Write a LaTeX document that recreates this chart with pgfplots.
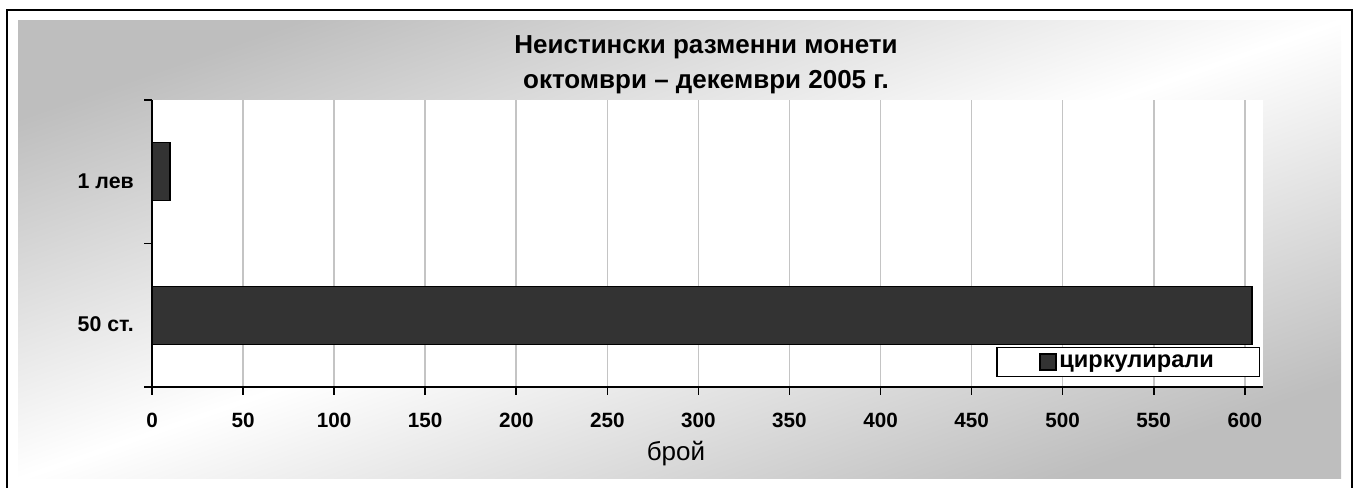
\documentclass[border=0pt]{standalone}
\usepackage{fontspec}
\setmainfont{Liberation Sans}
\usepackage{pgfplots}
\pgfplotsset{compat=1.18}
\definecolor{bgray}{HTML}{BEBEBE}
\definecolor{gridc}{HTML}{C4C4C4}
\definecolor{barc}{HTML}{333333}
\begin{document}
\begin{tikzpicture}[x=1pt,y=1pt]
\path[use as bounding box] (0,0) rectangle (1017,366);
\shade[top color=bgray, bottom color=bgray, middle color=white, shading angle=19.1] (13.5,6.75) rectangle (1005.75,350.25);
\draw[line width=2pt] (5.25,-5) -- (5.25,358.5) -- (1014,358.5) -- (1014,-5);
\node[font=\fontsize{19.5}{22}\selectfont\bfseries, anchor=base] at (529.5,326) {Неистински разменни монети};
\node[font=\fontsize{19.5}{22}\selectfont\bfseries, anchor=base] at (529.5,299.8) {октомври – декември 2005 г.};
\begin{axis}[
  at={(114pt,75.75pt)}, anchor=south west, scale only axis,
  width=833.25pt, height=215.25pt,
  xbar, bar width=43.5pt,
  xmin=0, xmax=610, ymin=-0.5, ymax=1.5,
  axis x line*=bottom, axis y line*=left,
  axis line style={line width=1.2pt, -},
  axis background/.style={fill=white},
  xtick={0,50,...,600},
  xmajorgrids, major grid style={gridc, line width=1.2pt},
  tick align=outside, major tick length=6pt,
  tick style={black, line width=1.2pt},
  ytick={-0.5,0.5,1.5}, yticklabels={},
  extra y ticks={0,1}, extra y tick labels={50 ст.,1 лев},
  extra y tick style={major tick length=0pt, ymajorgrids=false},
  /pgf/number format/assume math mode=true,
  xticklabel style={font=\fontsize{15.5}{18}\selectfont\bfseries, anchor=north, inner sep=0pt, yshift=-13.5pt},
  yticklabel style={font=\fontsize{16}{19}\selectfont\bfseries, anchor=east, inner sep=0pt, xshift=-13.5pt, yshift=-7pt},
  xlabel={брой},
  xlabel style={font=\fontsize{19.5}{22}\selectfont, at={(axis description cs:0.4716,-0.2544)}, anchor=base},
  legend style={at={(0.9973,0.0348)}, anchor=south east, draw=black, line width=1.1pt, fill=white,
    inner xsep=32pt, inner ysep=4.2pt, font=\fontsize{17.7}{20}\selectfont\bfseries,
    nodes={inner xsep=2pt, inner ysep=1pt}},
  legend image code/.code={\draw[#1, line width=0.9pt] (0pt,-6pt) rectangle (12pt,6pt);},
]
\addplot[fill=barc, draw=black, line width=1.1pt] coordinates {(604,0) (10,1)};
\addlegendentry{циркулирали}
\end{axis}
\end{tikzpicture}
\end{document}
